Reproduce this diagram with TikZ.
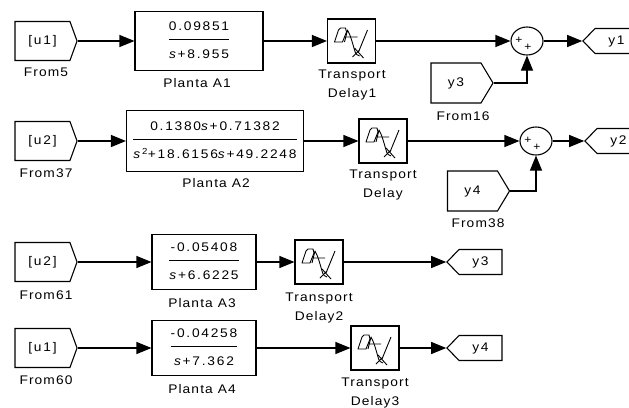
\documentclass[tikz,border=0pt]{standalone}
\usepackage{fontspec}
\setmainfont{Liberation Sans}[FakeStretch=1.1,LetterSpace=9]
\newfontfamily\numfont{Liberation Sans}[FakeStretch=1.1,LetterSpace=14]
\usetikzlibrary{arrows.meta,shapes.symbols,shapes.geometric}
\setlength\arrayrulewidth{1.1pt}
\newcommand\tf[2]{\begin{tabular}{@{}c@{}}\rule[-8pt]{0pt}{20pt}#1\\\hline\rule[-4pt]{0pt}{23pt}#2\end{tabular}}
\tikzset{
	blk/.style={draw,line width=1.1pt,inner sep=0pt},
	plant/.style={blk,minimum height=55pt,font=\numfont\fontsize{12.5}{14}\selectfont},
	delay/.style={blk,minimum width=48pt,minimum height=44pt,path picture={
		\begin{scope}[shift={(path picture bounding box.center)},line width=.9pt,line join=round]
			\draw (-9,1) -- (-17,1) -- (-13,-11) -- (-11,-13) -- (-6,-13) -- (-5,-9) -- cycle;
			\draw (-7,1) -- (-4,-11) .. controls (-1,-6) and (1,2) .. (3,9) .. controls (4,13) and (6,15) .. (8,15);
			\draw (-7,-4) -- (6,-4) (7,11) -- (16,-11) (3,7) -- (12,17) (1,16) -- (8,9);
		\end{scope}}},
	tag/.style={blk,signal,signal to=east,signal pointer angle=140,minimum width=62pt,minimum height=39pt,font=\numfont\fontsize{12.5}{14}\selectfont},
	goto/.style={tag,signal to=west,signal pointer angle=92,minimum width=55pt,minimum height=25pt},
	sumb/.style={blk,ellipse,minimum width=32pt,minimum height=28pt},
	pls/.style={font=\fontsize{11}{11}\selectfont,inner sep=0pt},
	lbl/.style={font=\fontsize{12.5}{19}\selectfont,align=center,inner sep=0pt},
	sig/.style={line width=1.1pt,-{Triangle[length=15pt,width=12pt]}}
}
\begin{document}
\begin{tikzpicture}[x=1pt,y=-1pt]
	\useasboundingbox (0,0) rectangle (629,407);
	\clip (0,0) rectangle (629,407);
	\node[tag] (from5) at (42.5,41) {[u1]};
	\node[plant,minimum width=128pt,minimum height=59pt] (planta1) at (199,41) {\tf{0.09851}{\textit{s}+8.955}};
	\node[delay] (td1) at (351.5,41) {};
	\node[sumb] (sum1) at (527,41) {};
	\node[goto] (goto1) at (616.5,41) {y1};
	\node[tag,signal pointer angle=118,minimum height=40pt] (from16) at (456,83) {y3};
	\node[tag] (from37) at (42.5,141) {[u2]};
	\node[plant,minimum width=177pt,minimum height=61pt] (planta2) at (215,141) {\tf{0.1380\textit{s}+0.71382}{\textit{s}\textsuperscript{2}+18.6156\textit{s}+49.2248}};
	\node[delay] (td) at (383,141) {};
	\node[sumb] (sum2) at (536,141) {};
	\node[goto] (goto2) at (618.5,141) {y2};
	\node[tag,signal pointer angle=118,minimum height=40pt] (from38) at (472.5,191) {y4};
	\node[tag] (from61) at (42.5,262) {[u2]};
	\node[plant,minimum width=104pt] (planta3) at (204,262) {\tf{-0.05408}{\textit{s}+6.6225}};
	\node[delay] (td2) at (319,262) {};
	\node[goto] (goto3) at (480.5,262) {y3};
	\node[tag] (from60) at (42.5,348) {[u1]};
	\node[plant,minimum width=104pt] (planta4) at (204,348) {\tf{-0.04258}{\textit{s}+7.362}};
	\node[delay] (td3) at (375,348) {};
	\node[goto] (goto4) at (480.5,348) {y4};
	\foreach \n/\x/\y/\t in {from5/46/72/From5,planta1/197/83/Planta A1,td1/352/84.7/Transport\\Delay1,from16/463/116/From16,
		from37/46/173/From37,planta2/216/183/Planta A2,td/383/184.7/Transport\\Delay,from38/478/223/From38,
		from61/46/295/From61,planta3/202/303/Planta A3,td2/319/307.7/Transport\\Delay2,
		from60/46/380/From60,planta4/202/389/Planta A4,td3/375/392.7/Transport\\Delay3}
		\node[lbl] (\n-lbl) at (\x,\y) {\t};
	\foreach \s in {sum1,sum2} {
		\node[pls] (\s-a) at ([shift={(-8,-1)}]\s.center) {+};
		\node[pls] (\s-b) at ([shift={(1,6)}]\s.center) {+};
	}
	\foreach \a/\b in {from5/planta1,planta1/td1,td1/sum1,sum1/goto1,from37/planta2,planta2/td,td/sum2,sum2/goto2,from61/planta3,planta3/td2,td2/goto3,from60/planta4,planta4/td3,td3/goto4}
		\draw[sig] (\a.east) -- (\b.west);
	\draw[sig] (from16.east) -| (sum1.south);
	\draw[sig] (from38.east) -| (sum2.south);
\end{tikzpicture}
\end{document}
